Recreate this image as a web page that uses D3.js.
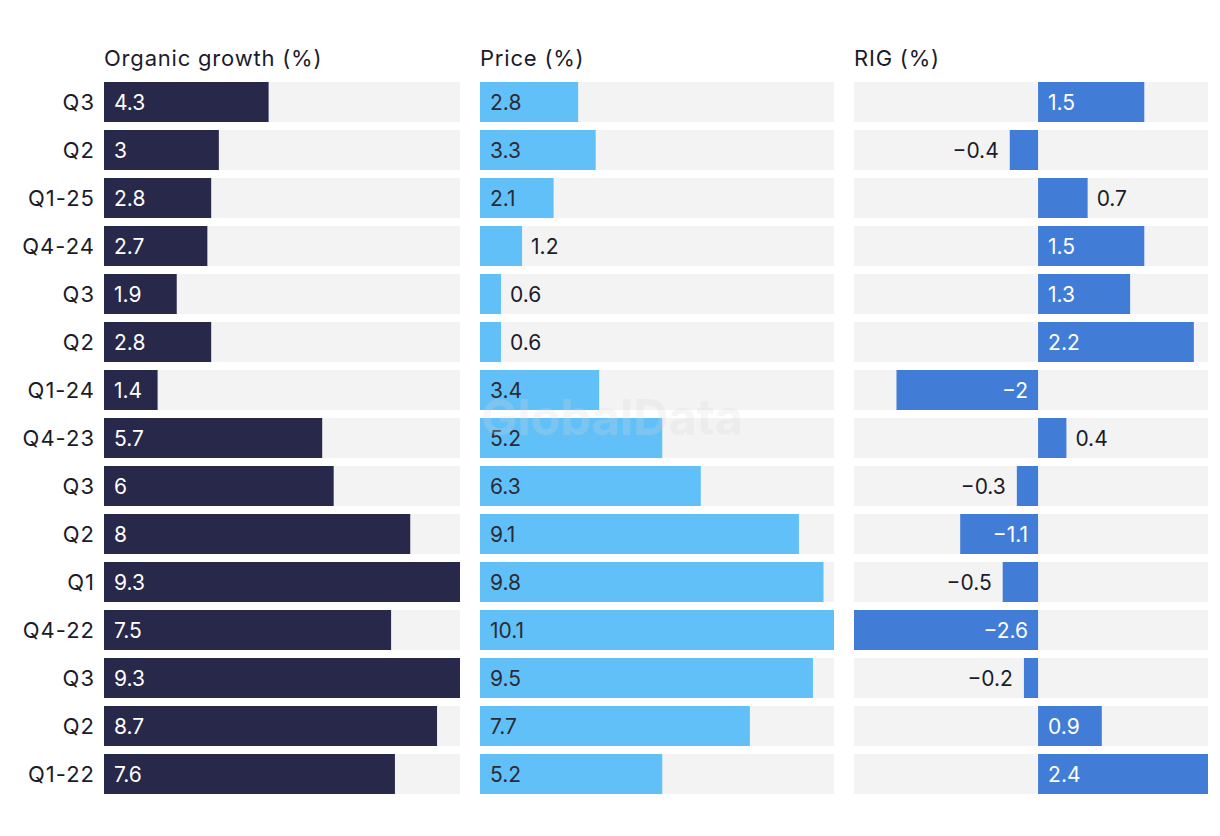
<!DOCTYPE html>
<html><head><meta charset="utf-8">
<script src="https://cdn.jsdelivr.net/npm/d3@7"></script>
<style>body{margin:0;background:#fff;} text{font-family:Inter,"Noto Sans",sans-serif;}</style>
</head><body><svg id="c" width="1220" height="836"></svg>
<script>
const quarters = ["Q3","Q2","Q1-25","Q4-24","Q3","Q2","Q1-24","Q4-23","Q3","Q2","Q1","Q4-22","Q3","Q2","Q1-22"];
const organic = [4.3,3,2.8,2.7,1.9,2.8,1.4,5.7,6,8,9.3,7.5,9.3,8.7,7.6];
const price = [2.8,3.3,2.1,1.2,0.6,0.6,3.4,5.2,6.3,9.1,9.8,10.1,9.5,7.7,5.2];
const rig = [1.5,-0.4,0.7,1.5,1.3,2.2,-2,0.4,-0.3,-1.1,-0.5,-2.6,-0.2,0.9,2.4];
const titles = ["Organic growth (%)","Price (%)","RIG (%)"];

const svg = d3.select("#c");
const idx = d3.range(quarters.length);
const y = d3.scaleBand().domain(idx).range([82, 82 + 48*quarters.length]).paddingInner(8/48).paddingOuter(0).align(0);
const bh = 40;
const yb = i => 82 + i*48;

const panels = [
  {vals: organic, x0: 104, x1: 460, color: "#28284b", inText: "#ffffff", domain:[0, d3.max(organic)]},
  {vals: price, x0: 480, x1: 834, color: "#62c0f8", inText: "#2b2b36", domain:[0, d3.max(price)]},
  {vals: rig, x0: 854, x1: 1208, color: "#417dd6", inText: "#ffffff", domain:[d3.min(rig), d3.max(rig)]}
];
const fmt = v => (v<0 ? "\u2212" : "") + Math.abs(v);
const dark = "#1b1b2b";

// y labels
svg.append("g").selectAll("text").data(idx).join("text")
  .attr("x", 95).attr("y", i => yb(i)+bh/2 + 7.5)
  .attr("text-anchor","end").attr("font-size",22).attr("letter-spacing",1).attr("fill",dark)
  .text(i => quarters[i]);

panels.forEach((p, pi) => {
  const x = d3.scaleLinear().domain(p.domain).range([p.x0, p.x1]);
  const g = svg.append("g");
  g.append("text").attr("x", p.x0).attr("y", 65.5).attr("font-size",22).attr("letter-spacing",0.8).attr("fill",dark).text(titles[pi]);
  g.selectAll("rect.bg").data(idx).join("rect").attr("class","bg")
    .attr("x", p.x0).attr("y", i=>yb(i)).attr("width", p.x1-p.x0).attr("height", bh).attr("fill","#f3f3f3");
  const z = x(0);
  g.selectAll("rect.bar").data(idx).join("rect").attr("class","bar")
    .attr("x", i => Math.min(z, x(p.vals[i]))).attr("y", i=>yb(i))
    .attr("width", i => Math.abs(x(p.vals[i]) - z)).attr("height", bh).attr("fill", p.color);
  g.selectAll("text.lbl").data(idx).join("text").attr("class","lbl")
    .attr("font-size",21).attr("y", i => yb(i)+bh/2 + 7.5)
    .each(function(i){
      const v = p.vals[i];
      const w = Math.abs(x(v)-z);
      const inside = w >= 51;
      const t = d3.select(this).text(fmt(v));
      if (v >= 0) {
        t.attr("text-anchor","start").attr("x", inside ? z+10 : x(v)+9);
      } else {
        t.attr("text-anchor","end").attr("x", inside ? z-10 : x(v)-11);
      }
      t.attr("fill", inside ? p.inText : dark);
    });
});

svg.append("text").attr("x", 481).attr("y", 435)
  .attr("font-size",50).attr("font-weight",700).attr("fill","#d8d8d8").attr("opacity",0.22)
  .attr("textLength",262).attr("lengthAdjust","spacingAndGlyphs")
  .text("GlobalData");
</script></body></html>
